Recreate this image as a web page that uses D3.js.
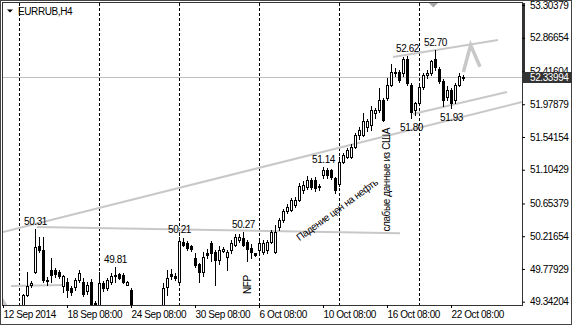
<!DOCTYPE html>
<html>
<head>
<meta charset="utf-8">
<script src="https://cdn.jsdelivr.net/npm/d3@7"></script>
<style>
  body { margin: 0; background: #fff; }
  text { font-family: "Liberation Sans", Arial, sans-serif; font-size: 10px; letter-spacing: -0.4px; fill: #000; }
</style>
</head>
<body>
<svg id="chart" width="572" height="325"></svg>
<script>
// EURRUB H4 candles, one per 4px
var opens  = [49.20,49.18,49.15,49.20,49.22,49.25,49.43,49.56,49.74,50.08,50.03,49.63,49.77,49.77,49.74,49.55,49.61,49.52,49.54,49.63,
              49.61,49.48,49.61,49.32,49.30,49.59,49.52,49.61,49.70,49.71,49.70,49.57,49.50,49.25,49.10,49.15,49.08,49.12,49.18,49.14,
              49.20,49.54,49.71,49.69,49.61,50.14,50.12,50.08,49.92,49.84,49.74,49.99,50.12,50.01,49.90,50.02,49.94,50.03,50.10,50.17,
              50.19,50.14,50.06,49.99,50.03,50.00,50.03,50.14,50.01,50.34,50.43,50.55,50.57,50.63,50.70,50.83,50.88,50.97,50.97,50.89,
              51.03,51.10,51.10,51.00,50.92,51.21,51.28,51.28,51.41,51.57,51.57,51.68,51.70,51.86,51.90,52.04,52.06,52.24,52.41,52.41,
              52.39,52.58,52.24,51.90,52.00,52.21,52.37,52.39,52.58,52.45,52.29,52.07,52.17,52.04,52.24,52.33];
var highs  = [49.26,49.24,49.22,49.27,49.28,49.44,49.74,49.62,50.31,50.21,50.20,49.67,49.92,49.79,49.77,49.70,49.66,49.55,49.66,49.77,
              49.66,49.60,49.64,49.35,49.74,49.62,49.66,49.72,49.81,49.73,49.73,49.62,49.52,49.28,49.20,49.24,49.18,49.22,49.26,49.24,
              49.59,49.77,49.78,49.72,50.21,50.19,50.15,50.10,49.99,49.86,50.01,50.04,50.15,50.03,50.09,50.07,50.03,50.17,50.25,50.25,
              50.27,50.16,50.11,49.99,50.15,50.16,50.17,50.30,50.37,50.46,50.58,50.65,50.73,50.74,50.93,50.95,51.02,51.00,51.01,50.91,
              51.14,51.13,51.12,51.01,51.28,51.33,51.40,51.45,51.60,51.68,51.86,51.78,51.95,51.93,52.19,52.06,52.33,52.52,52.46,52.44,
              52.61,52.62,52.26,52.01,52.24,52.40,52.43,52.57,52.70,52.48,52.31,52.22,52.20,52.26,52.40,52.37];
var lows   = [49.12,49.10,49.08,49.14,49.16,49.22,49.42,49.54,49.72,50.01,49.61,49.57,49.61,49.67,49.66,49.47,49.40,49.43,49.50,49.61,
              49.42,49.45,49.28,49.25,49.27,49.48,49.50,49.58,49.61,49.64,49.59,49.56,49.10,49.05,49.00,49.05,48.98,49.04,49.08,49.06,
              49.10,49.43,49.65,49.63,49.60,50.08,50.03,50.02,49.81,49.61,49.68,49.92,49.89,49.57,49.85,50.00,49.77,49.99,50.08,50.14,
              50.08,49.88,49.92,49.95,50.00,49.98,49.99,50.12,49.99,50.30,50.41,50.52,50.55,50.60,50.68,50.80,50.85,50.85,50.82,50.84,
              51.00,51.00,50.98,50.80,50.89,51.19,51.26,51.26,51.39,51.52,51.55,51.62,51.63,51.80,51.88,51.75,52.03,52.22,52.35,52.27,
              52.35,52.24,51.80,51.84,51.97,52.18,52.33,52.37,52.44,52.26,51.95,52.03,51.93,52.00,52.22,52.30];
var closes = [49.18,49.15,49.20,49.22,49.25,49.43,49.55,49.59,50.07,50.03,49.63,49.62,49.70,49.71,49.69,49.68,49.50,49.47,49.63,49.72,
              49.45,49.57,49.30,49.30,49.59,49.52,49.63,49.68,49.68,49.66,49.61,49.60,49.25,49.10,49.15,49.08,49.12,49.18,49.14,49.20,
              49.53,49.66,49.68,49.66,50.15,50.10,50.06,50.05,49.83,49.74,49.94,49.97,49.99,49.90,50.03,50.04,50.01,50.12,50.21,50.21,
              50.10,50.05,50.01,49.97,50.12,50.13,50.14,50.27,50.27,50.43,50.55,50.61,50.70,50.70,50.89,50.90,50.97,50.88,50.86,50.87,
              51.10,51.03,51.01,50.83,51.21,51.30,51.37,51.41,51.57,51.64,51.75,51.75,51.90,51.90,52.04,51.77,52.24,52.41,52.39,52.30,
              52.58,52.26,51.88,51.99,52.21,52.37,52.39,52.55,52.47,52.29,52.03,52.17,52.00,52.24,52.35,52.34];
var lastPrice = 52.33994;

var yTicks = [53.30379, 52.86654, 52.41604, 51.97879, 51.54154, 51.10429, 50.65379, 50.21654, 49.77929, 49.34204];
var xTickBars = [0, 16, 32, 48, 64, 80, 96, 112];
var xTickLabels = ['12 Sep 2014', '18 Sep 08:00', '24 Sep 08:00', '30 Sep 08:00', '6 Oct 08:00', '10 Oct 08:00', '16 Oct 08:00', '22 Oct 08:00'];
var separatorBars = [4, 24, 44, 64, 84, 104];

// price marks on highs / lows
var markBars = [8, 28, 44, 60, 80, 101, 108, 102, 112];
var markSide = ['high', 'high', 'high', 'high', 'high', 'high', 'high', 'low', 'low'];

// trendlines: [bar1, price1, bar2, price2]
var trendlines = [
  [0, 50.273, 129.75, 52.009],
  [8.4, 50.34, 99.25, 50.255],
  [2, 49.552, 15.5, 49.565],
  [97.5, 52.610, 123.75, 52.837],
  [102.5, 51.848, 126, 52.142]
];
var arrowPts = [[115.1, 52.41], [116.9, 52.77], [119.25, 52.48]];
var cornerPts = [[-0.2, 49.41], [-0.2, 49.28], [1.3, 49.28]];

var notes = ['NFP', 'Падение цен на нефть', 'слабые данные из США'];
var noteBars = [61.1, 83.5, 95.9];
var notePrices = [49.57, 50.57, 50.97];
var noteAngles = [-90, -36, -90];

var svg = d3.select('#chart');
var x = d3.scaleLinear().domain([0, 129.75]).range([3, 522]);
var y = d3.scaleLinear().domain([49.34204, 53.30379]).range([301.7, 5]);
var px = function(i) { return Math.round(x(i)); };

svg.append('rect').attr('x', 0.5).attr('y', 0.5).attr('width', 571).attr('height', 324)
  .attr('fill', '#fff').attr('stroke', '#444');

svg.append('clipPath').attr('id', 'plotclip').append('rect')
  .attr('x', 3).attr('y', 3).attr('width', 519).attr('height', 302);
var plot = svg.append('g').attr('clip-path', 'url(#plotclip)');

plot.selectAll('.sep').data(separatorBars).enter().append('line')
  .attr('x1', function(d) { return px(d) + 0.5; })
  .attr('x2', function(d) { return px(d) + 0.5; })
  .attr('y1', 3).attr('y2', 305)
  .attr('stroke', '#000').attr('stroke-dasharray', '3,2');

plot.append('line')
  .attr('x1', 3).attr('x2', 522)
  .attr('y1', Math.round(y(lastPrice)) + 0.5).attr('y2', Math.round(y(lastPrice)) + 0.5)
  .attr('stroke', '#c0c0c0');

plot.selectAll('.trend').data(trendlines).enter().append('line')
  .attr('x1', function(d) { return x(d[0]); })
  .attr('y1', function(d) { return y(d[1]); })
  .attr('x2', function(d) { return x(d[2]); })
  .attr('y2', function(d) { return y(d[3]); })
  .attr('stroke', '#c8c8c8').attr('stroke-width', 2);

var line = d3.line().x(function(d) { return x(d[0]); }).y(function(d) { return y(d[1]); });
plot.append('path').attr('d', line(arrowPts))
  .attr('fill', 'none').attr('stroke', '#c8c8c8').attr('stroke-width', 3.5);
plot.append('path').attr('d', line(cornerPts) + 'Z').attr('fill', '#c8c8c8');

var bars = d3.range(opens.length);
var candle = plot.selectAll('.candle').data(bars).enter().append('g');

candle.append('line')
  .attr('x1', function(i) { return px(i) + 0.5; })
  .attr('x2', function(i) { return px(i) + 0.5; })
  .attr('y1', function(i) { return Math.round(y(highs[i])); })
  .attr('y2', function(i) { return Math.round(y(lows[i])) + 1; })
  .attr('stroke', '#000');

candle.append('rect')
  .attr('x', function(i) { return closes[i] >= opens[i] ? px(i) - 0.5 : px(i) - 1; })
  .attr('y', function(i) {
    var t = Math.round(y(Math.max(opens[i], closes[i])));
    return closes[i] >= opens[i] ? t + 0.5 : t;
  })
  .attr('width', function(i) { return closes[i] >= opens[i] ? 2 : 3; })
  .attr('height', function(i) {
    var h = Math.round(y(Math.min(opens[i], closes[i]))) - Math.round(y(Math.max(opens[i], closes[i])));
    return closes[i] >= opens[i] ? Math.max(h, 0) : h + 1;
  })
  .attr('fill', function(i) { return closes[i] >= opens[i] ? '#fff' : '#000'; })
  .attr('stroke', function(i) { return closes[i] >= opens[i] ? '#000' : 'none'; });

// high / low price marks
svg.selectAll('.mark').data(markBars).enter().append('text')
  .attr('x', function(d) { return px(d) + 0.5; })
  .attr('y', function(d, k) {
    return markSide[k] == 'high' ? y(highs[d]) - 4 : y(lows[d]) + 13;
  })
  .attr('text-anchor', 'middle')
  .text(function(d, k) { return (markSide[k] == 'high' ? highs[d] : lows[d]).toFixed(2); });

svg.selectAll('.note').data(notes).enter().append('text')
  .attr('transform', function(d, k) {
    return 'translate(' + x(noteBars[k]) + ',' + y(notePrices[k]) + ') rotate(' + noteAngles[k] + ')';
  })
  .attr('text-anchor', 'middle').attr('dy', '0.35em')
  .text(function(d) { return d; });

svg.append('rect').attr('x', 2.5).attr('y', 2.5).attr('width', 520).attr('height', 303)
  .attr('fill', 'none').attr('stroke', '#333');
svg.append('rect').attr('x', 522).attr('y', 3).attr('width', 3).attr('height', 80).attr('fill', '#333');

var yAxis = d3.axisRight(y).tickValues(yTicks).tickSize(3).tickPadding(5).tickFormat(d3.format('.5f'));
svg.append('g').attr('transform', 'translate(522,0)').call(yAxis)
  .call(function(g) { g.select('.domain').remove(); });

var xAxis = d3.axisBottom(x).tickValues(xTickBars).tickSize(3).tickPadding(3)
  .tickFormat(function(d, i) { return xTickLabels[i]; });
svg.append('g').attr('transform', 'translate(0,305)').call(xAxis)
  .call(function(g) { g.select('.domain').remove(); })
  .selectAll('text').attr('text-anchor', 'start');

// current price box (covers the lower half of the 52.41604 label, as in MT4)
var ly = Math.round(y(lastPrice));
svg.append('rect').attr('x', 523).attr('y', ly - 5).attr('width', 49).attr('height', 11).attr('fill', '#333');
svg.append('text').attr('x', 530).attr('y', ly + 0.5).attr('dy', '0.35em').style('fill', '#fff')
  .text(lastPrice.toFixed(5));

// chart shift marker and title
var sx = x(107.6);
svg.append('path').attr('d', 'M' + (sx - 4.5) + ',3L' + (sx + 4.5) + ',3L' + sx + ',7.5Z').attr('fill', '#a8a8a8');
svg.append('path').attr('d', 'M7,9.5L13,9.5L10,12.5Z').attr('fill', '#000');
svg.append('text').attr('x', 18).attr('y', 14.5).text('EURRUB,H4');
</script>
</body>
</html>
